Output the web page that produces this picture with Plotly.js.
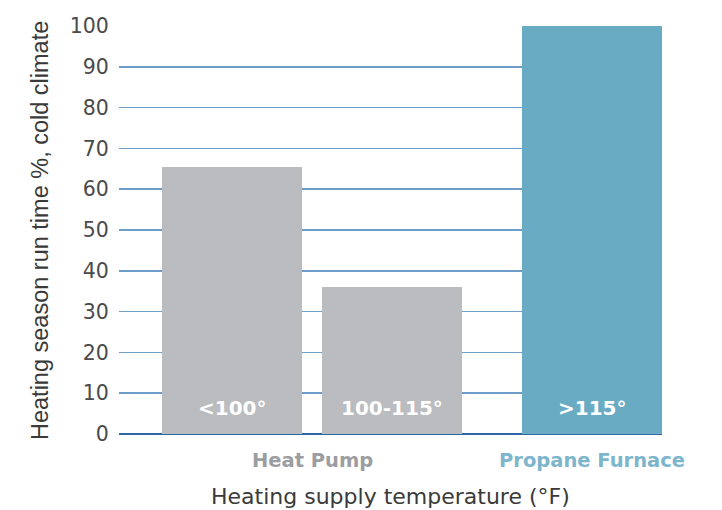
<!DOCTYPE html>
<html>
<head>
<meta charset="utf-8">
<script src="https://cdn.plot.ly/plotly-3.0.1.min.js"></script>
<style>html,body{margin:0;padding:0;background:#fff;}#chart{width:722px;height:510px;}</style>
</head>
<body>
<div id="chart"></div>
<script>
// Data
const groups = ["Heat Pump", "Propane Furnace"];
const categories = ["<100°", "100-115°", ">115°"];
const categoryGroup = [0, 0, 1];
const values = [65.5, 36, 100];
const yTicks = [0, 10, 20, 30, 40, 50, 60, 70, 80, 90, 100];

// Layout constants (pixel-like x units)
const barW = 140, barGap = 20, groupGap = 60, leftPad = 43;
const gray = "#bbbcbf", blue = "#6aabc4";
const groupColors = ["#9c9da0", "#7db5cc"];
const barColors = [gray, gray, blue];

// compute bar centers
const xs = [];
let cursor = leftPad;
categories.forEach((c, i) => {
  if (i > 0) cursor += (categoryGroup[i] !== categoryGroup[i-1]) ? groupGap : barGap;
  xs.push(cursor + barW/2);
  cursor += barW;
});
const xMax = cursor;

const din = "'DejaVu Sans', sans-serif";
const arial = "'Liberation Sans', Arial, sans-serif";

const trace = {
  type: "bar",
  x: xs,
  y: values,
  width: barW,
  marker: {color: barColors, line: {width: 0}},
  hoverinfo: "skip"
};

const annotations = [];
categories.forEach((c, i) => {
  annotations.push({
    x: xs[i], y: 6.4, xref: "x", yref: "y", text: "<b>" + c + "</b>",
    showarrow: false, font: {family: din, size: 20, color: "#ffffff"}, xanchor: "center", yanchor: "middle"
  });
});
groups.forEach((g, gi) => {
  const idx = categoryGroup.map((v, i) => v === gi ? i : -1).filter(i => i >= 0);
  const left = xs[idx[0]] - barW/2, right = xs[idx[idx.length-1]] + barW/2;
  annotations.push({
    x: (left + right)/2, y: -0.064, xref: "x", yref: "paper", text: "<b>" + g + "</b>",
    showarrow: false, font: {family: din, size: 19.5, color: groupColors[gi]}, xanchor: "center", yanchor: "middle"
  });
});
annotations.push({
  x: 0.5, y: -0.152, xref: "paper", yref: "paper", text: "Heating supply temperature (°F)",
  showarrow: false, font: {family: din, size: 22, color: "#3a3a3a"}, xanchor: "center", yanchor: "middle"
});
annotations.push({
  x: -0.1455, y: 0.5, xref: "paper", yref: "paper", text: "Heating season run time %, cold climate",
  textangle: -90, showarrow: false, font: {family: arial, size: 23.5, color: "#3a3a3a"}, xanchor: "center", yanchor: "middle"
});

const layout = {
  width: 722, height: 510,
  margin: {l: 119, r: 60, t: 26, b: 76},
  paper_bgcolor: "#ffffff", plot_bgcolor: "#ffffff",
  showlegend: false,
  xaxis: {range: [0, xMax], showgrid: false, zeroline: false, showticklabels: false, ticks: "", fixedrange: true},
  yaxis: {
    range: [0, 100], tickvals: yTicks, ticktext: yTicks.map(String),
    showgrid: true, gridcolor: "#6f9dca", gridwidth: 1.5,
    zeroline: true, zerolinecolor: "#2e68aa", zerolinewidth: 1.5,
    showline: false, ticks: "outside", ticklen: 5, tickcolor: "rgba(0,0,0,0)",
    tickfont: {family: din, size: 20.5, color: "#4a4a4a"}
  },
  annotations: annotations,
  bargap: 0
};

Plotly.newPlot("chart", [trace], layout, {displayModeBar: false, staticPlot: true});
</script>
</body>
</html>
